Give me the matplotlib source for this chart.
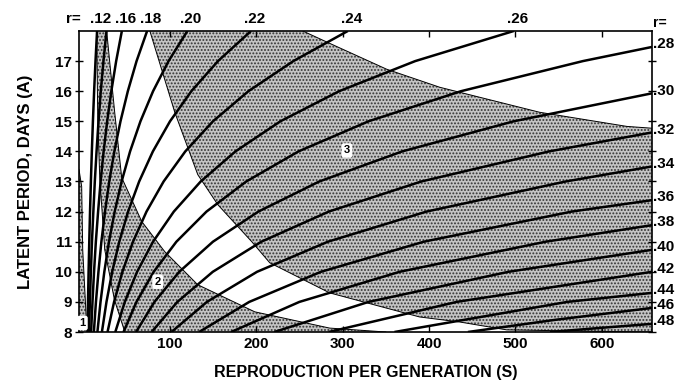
import matplotlib
matplotlib.use('Agg')
import matplotlib.pyplot as plt

# ---- data ---------------------------------------------------------------
# constant-r curves: S (reproduction per generation) against A (latent period)
r_vals = ['.12', '.14', '.16', '.18', '.20', '.22', '.24', '.26', '.28', '.30',
          '.32', '.34', '.36', '.38', '.40', '.42', '.44', '.46', '.48']

A_steps = [8, 9, 10, 11, 12, 13, 14, 15, 16, 17, 18]
r12_S = [4.8, 5.41, 6.10, 6.88, 7.76, 8.75, 9.86, 11.1, 12.5, 14.1, 15.9]
r14_S = [6.6, 7.59, 8.73, 10.0, 11.6, 13.3, 15.3, 17.6, 20.2, 23.3, 26.8]
r16_S = [9.0, 10.6, 12.4, 14.5, 17.1, 20.0, 23.5, 27.6, 32.4, 38.0, 44.6]
r18_S = [12.2, 14.6, 17.5, 20.9, 25.1, 30.0, 35.9, 43.0, 51.5, 61.6, 73.8]
r20_S = [16.3, 19.9, 24.3, 29.7, 36.3, 44.3, 54.1, 66.1, 80.7, 98.6, 120.4]
r22_S = [21.5, 26.8, 33.4, 41.6, 51.8, 64.6, 80.5, 100.3, 125, 155.8, 194]
r24_S = [28, 35.6, 45.2, 57.5, 73.1, 92.9, 118, 150, 191, 243, 306]
r26_S = [37, 48, 62.2, 80.7, 104.7, 135.8, 176, 228, 296, 384, 498]
r28_S = [46.5, 61.5, 81.4, 107.7, 142.5, 188.5, 249, 330, 437, 578, 658]
r28_A = [8, 9, 10, 11, 12, 13, 14, 15, 16, 17, 17.47]
r30_S = [61, 82.3, 111, 150, 202.5, 273, 369, 498, 658]
r30_A = [8, 9, 10, 11, 12, 13, 14, 15, 15.93]
r32_S = [79, 108.8, 149.8, 206, 284, 391, 539, 658]
r32_A = [8, 9, 10, 11, 12, 13, 14, 14.63]
r34_S = [102, 143, 201, 283, 397, 558, 658]
r34_A = [8, 9, 10, 11, 12, 13, 13.5]
r36_S = [134, 192, 275, 394, 565, 658]
r36_A = [8, 9, 10, 11, 12, 12.38]
r38_S = [171, 250, 366, 535, 658]
r38_A = [8, 9, 10, 11, 11.55]
r40_S = [221, 330, 492, 658]
r40_A = [8, 9, 10, 10.73]
r42_S = [284, 432, 658]
r42_A = [8, 9, 10.0]
r44_S = [360, 560, 658]
r44_A = [8, 9, 9.3]
r46_S = [445, 545, 658]
r46_A = [8, 8.4, 8.8]
r48_S = [540, 600, 658]
r48_A = [8, 8.14, 8.27]

curves_S = [r12_S, r14_S, r16_S, r18_S, r20_S, r22_S, r24_S, r26_S, r28_S, r30_S,
            r32_S, r34_S, r36_S, r38_S, r40_S, r42_S, r44_S, r46_S, r48_S]
curves_A = [A_steps] * 8 + [r28_A, r30_A, r32_A, r34_A, r36_A, r38_A, r40_A,
                            r42_A, r44_A, r46_A, r48_A]

# labels written along the top and the right edge
top_labels = ['.12', '.16', '.18', '.20', '.22', '.24', '.26']
right_labels = ['.28', '.30', '.32', '.34', '.36', '.38', '.40', '.42', '.44', '.46', '.48']

# thin boundary curves of the stippled zones 1, 2 and 3
z1_hi_S = [-5, -1.9, -0.7, 3.9, 5]
z1_hi_A = [13.4, 12.83, 10.73, 8.17, 8]
z2_lo_S = [15.5, 16.7, 19, 24.8, 36, 48]
z2_lo_A = [18, 15.07, 13.13, 10.73, 9.07, 8]
z2_hi_S = [27, 36.3, 44.4, 67.6, 94.2, 132.4, 198.4, 285, 350]
z2_hi_A = [18, 15.3, 13.13, 11.67, 10.67, 9.57, 8.67, 8.13, 8]
z3_lo_S = [77, 105.8, 132.4, 155.6, 194.9, 215.7, 285, 389, 436, 490, 600, 658]
z3_lo_A = [18, 15.3, 13.23, 12.23, 11.0, 10.3, 9.3, 8.5, 8.33, 8.07, 8.02, 8.0]
z3_hi_S = [254, 282, 351, 412.5, 528, 629, 658]
z3_hi_A = [18, 17.63, 16.73, 16.13, 15.3, 14.83, 14.77]

zone_names = ['1', '2', '3']
zone_S = [-1, 86, 305]
zone_A = [8.3, 9.67, 14.03]

# ---- figure -----------------------------------------------------------------
plt.rcParams['font.family'] = ['Liberation Sans', 'DejaVu Sans']
plt.rcParams['font.weight'] = 'bold'
plt.rcParams['axes.labelweight'] = 'bold'
plt.rcParams['hatch.linewidth'] = 0.9
plt.rcParams['hatch.color'] = '#333333'

fig = plt.figure(figsize=(6.85, 3.81), dpi=100)
ax = fig.add_axes([79/685., 49/381., (652-79)/685., (332-31)/381.])

xmin, xmax = -5, 658
ymin, ymax = 8, 18

# stippled zones
stip = dict(facecolor='#c4c4c4', hatch='.....', edgecolor='#333333', lw=0, zorder=1)
ax.fill([xmin, xmin] + z1_hi_S[::-1], [ymin, ymin] + z1_hi_A[::-1], **stip)
ax.fill(z2_lo_S + z2_hi_S[::-1], z2_lo_A + z2_hi_A[::-1], **stip)
ax.fill(z3_lo_S + z3_hi_S[::-1], z3_lo_A + z3_hi_A[::-1], **stip)

for S, A in [(z1_hi_S, z1_hi_A), (z2_lo_S, z2_lo_A), (z2_hi_S, z2_hi_A),
             (z3_lo_S, z3_lo_A), (z3_hi_S, z3_hi_A)]:
    ax.plot(S, A, color='black', lw=0.7, zorder=2)

for S, A in zip(curves_S, curves_A):
    ax.plot(S, A, color='black', lw=1.8, zorder=3, solid_capstyle='butt')

# r labels
ax.text(-12, 18.4, 'r=', fontsize=11, ha='center', va='center', clip_on=False)
for lab in top_labels:
    i = r_vals.index(lab)
    ax.text(curves_S[i][-1] + 4, 18.4, lab, fontsize=11, ha='center', va='center')
ax.text(659, 18.27, 'r=', fontsize=10, ha='left', va='center')
for lab in right_labels:
    i = r_vals.index(lab)
    ax.annotate(lab, (xmax, curves_A[i][-1]), xytext=(1, 2), textcoords='offset points',
                fontsize=11, ha='left', va='center', annotation_clip=False)

for name, s, a in zip(zone_names, zone_S, zone_A):
    ax.text(s, a, name, fontsize=8, ha='center', va='center', zorder=5,
            bbox=dict(boxstyle='round,pad=0.2', fc='white', ec='none'))

ax.set_xlim(xmin, xmax)
ax.set_ylim(ymin, ymax)
ax.set_xticks([100, 200, 300, 400, 500, 600])
ax.set_yticks(range(8, 18))
ax.tick_params(direction='in', top=True, right=True, labelsize=11, length=4, width=1)
ax.tick_params(axis='y', direction='inout', length=6, pad=2)
for sp in ax.spines.values():
    sp.set_linewidth(1.2)

ax.set_xlabel('REPRODUCTION PER GENERATION (S)', fontsize=11.5, labelpad=10)
ax.set_ylabel('LATENT PERIOD, DAYS (A)', fontsize=12, labelpad=16)

fig.savefig('out.png', dpi=100)
